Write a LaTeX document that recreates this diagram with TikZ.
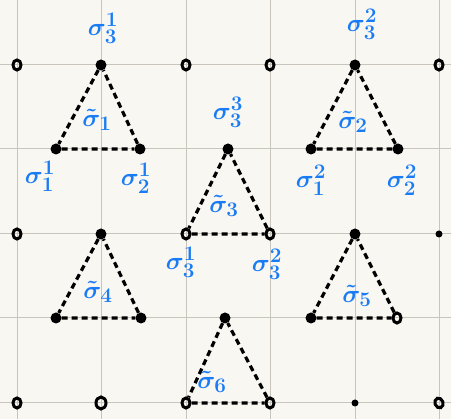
\documentclass[tikz,border=0pt]{standalone}
\usepackage{amsmath}
\definecolor{paper}{HTML}{F9F7F2}
\definecolor{gridc}{HTML}{C9C5BD}
\definecolor{ink}{HTML}{1A7CF5}
\usetikzlibrary{shapes.geometric}
\tikzset{
  edge/.style={black, line width=3.2pt, dash pattern=on 6pt off 4pt},
  vtx/.style={circle, fill=black, inner sep=0pt, minimum size=11pt},
  opn/.style={ellipse, draw=black, line width=3pt, inner sep=0pt, minimum width=8pt, minimum height=10pt},
  dotsm/.style={circle, fill=black, inner sep=0pt, minimum size=7pt},
  lab/.style={text=ink, font=\fontsize{30}{32}\selectfont\boldmath, inner sep=0pt}
}
\begin{document}
\begin{tikzpicture}[x=1pt,y=-1pt]
\fill[paper] (0,0) rectangle (451,419);
\useasboundingbox (0,0) rectangle (451,419);
% grid
\foreach \gx in {17,101,186,270,355,439} \draw[gridc, line width=1pt] (\gx,0) -- (\gx,419);
\foreach \gy in {65,149,234,318,403} \draw[gridc, line width=1pt] (0,\gy) -- (451,\gy);
% open lattice points
\node[opn] (p1) at (17,65) {};
\node[opn] (p2) at (186,65) {};
\node[opn] (p3) at (270,65) {};
\node[opn] (p4) at (439,65) {};
\node[opn] (p5) at (17,234) {};
\node[dotsm] (p6) at (439,234) {};
\node[opn] (p7) at (17,403) {};
\node[opn, minimum width=10pt, minimum height=12pt] (p8) at (101,403) {};
\node[dotsm] (p9) at (355,403) {};
\node[opn, rotate=20] (p10) at (439,403) {};
% triangle 1
\node[vtx] (a1) at (101,65) {};
\node[vtx] (b1) at (56,149) {};
\node[vtx] (c1) at (140,149) {};
% triangle 2
\node[vtx] (a2) at (355,65) {};
\node[vtx] (b2) at (311,149) {};
\node[vtx] (c2) at (398,149) {};
% triangle 3
\node[vtx] (a3) at (228,149) {};
\node[opn] (b3) at (186,234) {};
\node[opn] (c3) at (270,234) {};
% triangle 4
\node[vtx] (a4) at (101,234) {};
\node[vtx] (b4) at (56,318) {};
\node[vtx] (c4) at (141,318) {};
% triangle 5
\node[vtx] (a5) at (355,234) {};
\node[vtx] (b5) at (311,318) {};
\node[opn] (c5) at (397,318) {};
% triangle 6
\node[vtx] (a6) at (225,318) {};
\node[opn] (b6) at (186,403) {};
\node[opn] (c6) at (270,403) {};
% edges
\foreach \t in {1,...,6} \draw[edge] (a\t) -- (b\t) -- (c\t) -- (a\t);
% labels
\node[lab] (l1) at (103,28) {$\sigma_3^1$};
\node[lab] (l2) at (97,120) {$\tilde\sigma_1$};
\node[lab] (l3) at (40,176) {$\sigma_1^1$};
\node[lab] (l4) at (136,178) {$\sigma_2^1$};
\node[lab] (l5) at (228,112) {$\sigma_3^3$};
\node[lab] (l6) at (224,206) {$\tilde\sigma_3$};
\node[lab] (l7) at (181,262) {$\sigma_3^1$};
\node[lab] (l8) at (267,264) {$\sigma_3^2$};
\node[lab] (l9) at (362,24) {$\sigma_3^2$};
\node[lab] (l10) at (353,122) {$\tilde\sigma_2$};
\node[lab] (l11) at (311,180) {$\sigma_1^2$};
\node[lab] (l12) at (402,180) {$\sigma_2^2$};
\node[lab] (l13) at (98,292) {$\tilde\sigma_4$};
\node[lab] (l14) at (357,296) {$\tilde\sigma_5$};
\node[lab] (l15) at (212,382) {$\tilde\sigma_6$};
\end{tikzpicture}
\end{document}
